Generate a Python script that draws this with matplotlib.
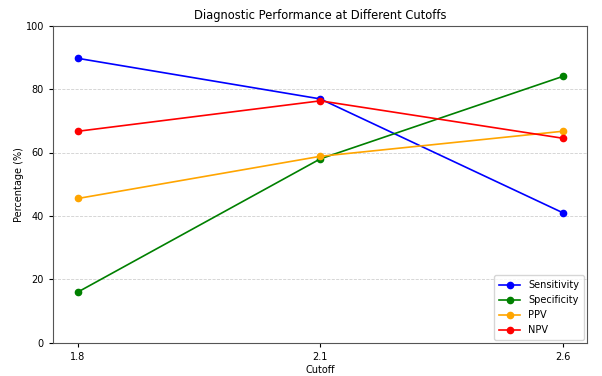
import matplotlib
matplotlib.use("Agg")
import matplotlib.pyplot as plt

cutoffs = ["1.8", "2.1", "2.6"]
sensitivity = [89.7, 76.9, 41.0]
specificity = [16.0, 58.0, 84.0]
ppv = [45.5, 58.8, 66.7]
npv = [66.7, 76.3, 64.5]

fig = plt.figure(figsize=(6.02, 3.76), dpi=100)
ax = fig.add_axes([53/602, 1 - 342.7/376, 534/602, 317/376])
x = list(range(len(cutoffs)))
ax.plot(x, sensitivity, marker='o', color='blue', label='Sensitivity', markersize=4.5, linewidth=1.2)
ax.plot(x, specificity, marker='o', color='green', label='Specificity', markersize=4.5, linewidth=1.2)
ax.plot(x, ppv, marker='o', color='orange', label='PPV', markersize=4.5, linewidth=1.2)
ax.plot(x, npv, marker='o', color='red', label='NPV', markersize=4.5, linewidth=1.2)
ax.set_xticks(x)
ax.set_xticklabels(cutoffs)
ax.set_xlim(-0.103, 2.1)
ax.set_ylim(0, 100)
ax.set_yticks([0, 20, 40, 60, 80, 100])
ax.tick_params(labelsize=7, length=3)
ax.set_xlabel('Cutoff', fontsize=7, labelpad=2)
ax.set_ylabel('Percentage (%)', fontsize=7)
ax.yaxis.set_label_coords(-0.054, 0.5)
ax.set_title('Diagnostic Performance at Different Cutoffs', fontsize=8.3, pad=5)
ax.grid(axis='y', linestyle='--', alpha=0.6, linewidth=0.6)
for s in ax.spines.values():
    s.set_color('#555555')
ax.legend(loc='lower right', fontsize=7, handlelength=2.2, borderpad=0.5,
          labelspacing=0.5, borderaxespad=0.3)
fig.savefig('out.png', dpi=100)
